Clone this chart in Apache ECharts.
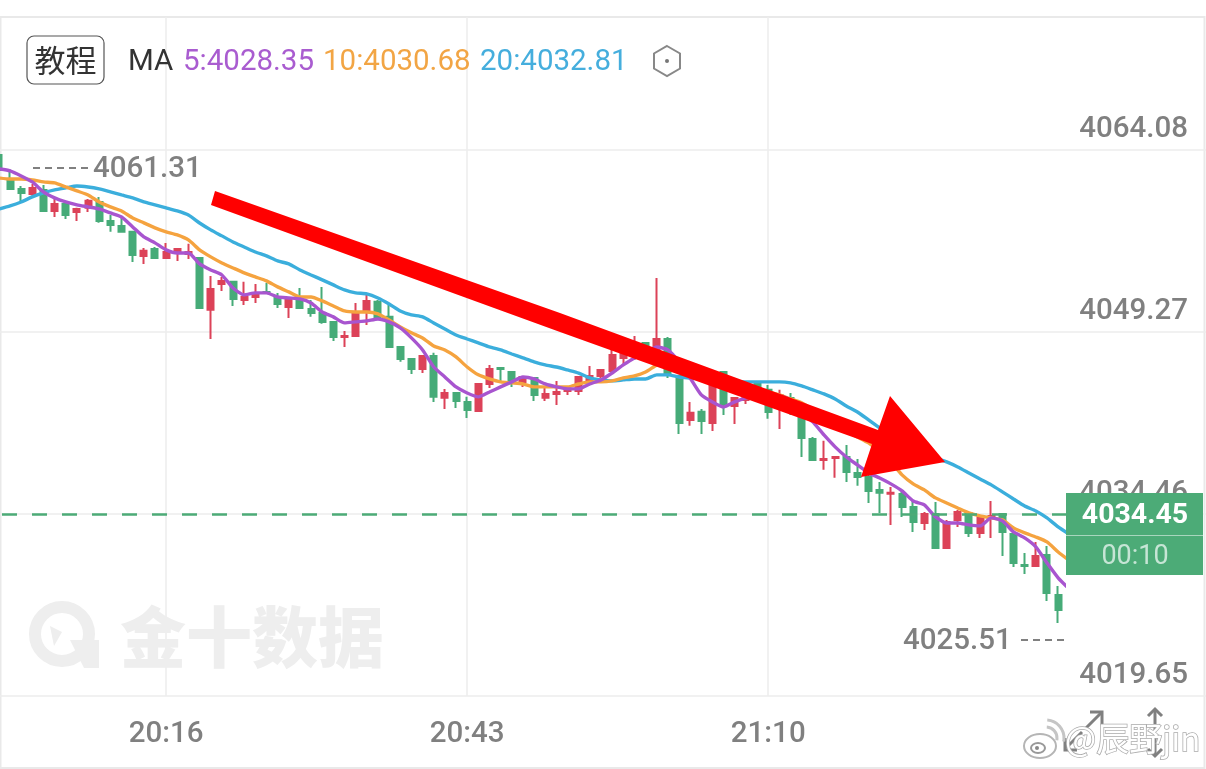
<!DOCTYPE html>
<html><head><meta charset="utf-8">
<style>html,body{margin:0;padding:0;background:#fff}#c{width:1206px;height:769px}</style>
<script src="https://cdn.jsdelivr.net/npm/echarts@6/dist/echarts.min.js"></script>
</head><body><div id="c"></div>
<script>
const times=["20:01","20:02","20:03","20:04","20:05","20:06","20:07","20:08","20:09","20:10","20:11","20:12","20:13","20:14","20:15","20:16","20:17","20:18","20:19","20:20","20:21","20:22","20:23","20:24","20:25","20:26","20:27","20:28","20:29","20:30","20:31","20:32","20:33","20:34","20:35","20:36","20:37","20:38","20:39","20:40","20:41","20:42","20:43","20:44","20:45","20:46","20:47","20:48","20:49","20:50","20:51","20:52","20:53","20:54","20:55","20:56","20:57","20:58","20:59","21:00","21:01","21:02","21:03","21:04","21:05","21:06","21:07","21:08","21:09","21:10","21:11","21:12","21:13","21:14","21:15","21:16","21:17","21:18","21:19","21:20","21:21","21:22","21:23","21:24","21:25","21:26","21:27","21:28","21:29","21:30","21:31","21:32","21:33","21:34","21:35","21:36","21:37"];
const shownTimes=["20:16","20:43","21:10"];
const yTicks=[4019.65,4034.46,4049.27,4064.08];
const lastPrice=4034.45;
const opens=[4063.67,4061.72,4060.91,4060.50,4060.83,4059.12,4059.69,4059.04,4059.37,4059.85,4058.31,4057.90,4057.42,4055.46,4056.03,4055.30,4055.70,4055.62,4055.30,4051.07,4053.18,4053.35,4051.88,4052.12,4052.53,4052.04,4051.31,4052.12,4051.15,4050.82,4050.09,4048.87,4048.95,4050.98,4051.72,4050.50,4048.05,4047.08,4046.26,4047.32,4043.91,4044.31,4043.58,4042.85,4045.04,4046.34,4046.02,4045.21,4045.53,4043.91,4044.23,4044.47,4044.47,4045.37,4045.69,4046.10,4047.16,4047.40,4048.38,4047.81,4048.70,4045.69,4042.11,4042.77,4041.87,4046.02,4043.25,4043.74,4045.04,4044.56,4043.33,4043.90,4042.93,4040.57,4038.86,4039.02,4039.10,4037.80,4037.47,4036.42,4036.10,4036.09,4035.03,4033.73,4034.46,4031.70,4033.98,4034.55,4032.92,4034.22,4034.46,4032.84,4030.31,4030.23,4031.13,4027.87];
const closes=[4062.46,4060.91,4060.58,4060.99,4059.12,4059.69,4058.79,4059.28,4059.94,4058.31,4057.98,4057.42,4055.54,4055.87,4055.30,4055.78,4056.03,4055.78,4051.23,4052.77,4053.42,4051.96,4052.12,4052.45,4052.45,4051.55,4051.88,4051.23,4050.82,4050.09,4048.87,4048.95,4050.90,4051.80,4050.41,4048.05,4047.08,4046.26,4047.32,4043.99,4044.31,4043.66,4042.93,4045.04,4046.26,4046.26,4045.21,4045.61,4044.15,4044.23,4044.39,4044.64,4045.61,4045.69,4046.18,4047.40,4047.81,4048.22,4047.16,4048.70,4045.78,4041.87,4042.69,4042.03,4044.96,4043.33,4043.90,4044.39,4044.15,4042.76,4044.15,4042.93,4040.65,4038.86,4038.94,4039.10,4037.88,4037.47,4036.34,4036.18,4036.18,4035.03,4033.81,4034.46,4031.70,4033.81,4034.63,4032.92,4034.22,4034.30,4033.00,4030.48,4030.23,4031.05,4028.04,4026.65];
const lows=[4062.46,4060.91,4059.85,4060.26,4059.12,4058.63,4058.47,4058.31,4059.04,4058.15,4057.42,4057.42,4054.97,4054.81,4055.30,4055.30,4055.05,4055.21,4051.23,4048.70,4052.61,4051.39,4051.47,4051.63,4052.45,4051.23,4050.41,4051.23,4050.50,4049.93,4048.54,4048.05,4048.95,4049.84,4050.41,4048.05,4046.84,4045.85,4045.93,4043.58,4043.01,4043.09,4042.28,4042.85,4044.72,4045.21,4044.80,4044.80,4043.66,4043.66,4043.33,4044.15,4044.15,4044.96,4045.53,4046.02,4046.67,4047.00,4046.84,4047.24,4045.53,4040.97,4041.63,4040.97,4041.22,4042.52,4041.79,4043.41,4043.74,4042.20,4041.38,4042.52,4039.10,4038.86,4038.05,4037.40,4037.07,4036.75,4035.36,4034.55,4033.57,4034.22,4032.99,4033.16,4031.70,4031.70,4033.41,4032.59,4032.51,4032.51,4031.05,4030.15,4029.58,4030.23,4027.38,4025.60];
const highs=[4063.67,4062.54,4061.15,4061.32,4061.24,4060.26,4059.85,4059.37,4060.10,4060.26,4058.79,4058.63,4057.42,4056.11,4056.19,4056.52,4056.11,4056.44,4055.30,4053.83,4053.75,4053.35,4053.35,4053.18,4053.26,4052.45,4052.04,4052.85,4051.88,4052.93,4050.09,4049.36,4051.63,4052.45,4051.88,4051.47,4048.05,4047.08,4047.40,4047.57,4044.64,4044.39,4043.99,4045.04,4046.59,4046.42,4046.02,4045.69,4045.61,4044.72,4045.29,4044.80,4045.61,4046.51,4046.26,4047.81,4047.97,4048.95,4048.38,4053.67,4048.87,4045.78,4043.58,4043.01,4045.37,4046.02,4043.90,4044.56,4045.21,4044.96,4044.56,4044.31,4043.33,4040.73,4040.41,4039.10,4040.08,4038.94,4038.05,4037.07,4036.66,4036.26,4035.60,4034.63,4035.44,4033.98,4034.79,4034.55,4034.38,4035.52,4034.55,4032.92,4031.29,4032.19,4031.86,4028.60];
const ma5=[4062.54,4062.38,4061.97,4061.48,4060.67,4060.18,4059.85,4059.61,4059.45,4059.28,4058.96,4058.63,4057.82,4057.00,4056.52,4055.95,4055.70,4055.70,4054.81,4054.32,4053.91,4052.85,4052.29,4052.45,4052.45,4052.12,4052.04,4051.96,4051.63,4050.90,4050.50,4050.01,4050.09,4050.17,4050.33,4050.09,4049.60,4048.79,4047.81,4046.42,4045.61,4044.80,4044.31,4043.99,4044.39,4044.80,4045.21,4045.61,4045.45,4045.04,4044.80,4044.64,4044.64,4045.04,4045.37,4045.93,4046.59,4047.16,4047.57,4048.05,4047.81,4046.84,4045.53,4044.15,4043.58,4043.17,4043.58,4043.90,4044.15,4044.15,4044.07,4043.74,4042.77,4041.95,4040.89,4039.92,4039.10,4038.45,4037.80,4037.39,4036.91,4036.34,4035.52,4035.20,4034.22,4033.73,4033.73,4033.57,4033.49,4034.14,4033.90,4033.00,4032.51,4031.78,4030.48,4029.26,4028.35];
const ma10=[4061.80,4061.72,4061.72,4061.64,4061.48,4061.40,4061.07,4060.75,4060.42,4059.85,4059.45,4059.12,4058.55,4058.15,4057.74,4057.42,4057.17,4056.76,4055.95,4055.38,4054.89,4054.48,4054.08,4053.75,4053.43,4052.94,4052.53,4052.12,4052.12,4051.80,4051.39,4050.98,4050.90,4050.90,4050.74,4050.25,4049.68,4049.20,4048.78,4048.13,4047.81,4047.24,4046.42,4045.78,4045.45,4045.21,4045.13,4045.04,4044.80,4044.80,4044.80,4044.80,4045.04,4045.21,4045.21,4045.29,4045.53,4045.70,4046.02,4046.59,4047.00,4047.00,4046.59,4046.18,4045.70,4045.37,4044.96,4044.72,4044.56,4044.39,4044.15,4043.82,4043.50,4042.93,4042.36,4041.79,4041.22,4040.73,4040.24,4039.51,4038.70,4037.64,4036.91,4036.42,4035.77,4035.36,4034.95,4034.55,4034.30,4034.14,4033.98,4033.33,4032.92,4032.59,4032.19,4031.37,4030.68];
const ma20=[4059.28,4059.53,4059.85,4060.26,4060.59,4060.83,4060.99,4061.15,4061.07,4060.91,4060.67,4060.42,4060.18,4059.85,4059.61,4059.37,4059.12,4058.79,4058.14,4057.58,4057.09,4056.60,4056.19,4055.78,4055.46,4055.05,4054.81,4054.32,4053.91,4053.51,4053.10,4052.69,4052.45,4052.37,4052.04,4051.55,4050.98,4050.66,4050.50,4050.01,4049.52,4049.03,4048.70,4048.38,4048.05,4047.81,4047.48,4047.16,4046.84,4046.59,4046.42,4046.18,4045.93,4045.53,4045.37,4045.29,4045.37,4045.45,4045.45,4045.78,4045.78,4045.61,4045.53,4045.45,4045.37,4045.29,4045.21,4045.21,4045.21,4045.21,4045.21,4045.13,4044.88,4044.56,4044.23,4043.82,4043.25,4042.76,4042.11,4041.46,4040.89,4040.32,4039.75,4039.43,4039.02,4038.70,4038.29,4037.80,4037.31,4036.83,4036.26,4035.68,4035.11,4034.71,4034.14,4033.41,4032.81];

const candles=opens.map((o,i)=>[o,closes[i],lows[i],highs[i]]);
const RED='#DC4258',GREEN='#46AB78',GRAY='#808080';
const NUM='Roboto,sans-serif';
const CJK='"Noto Sans CJK SC",sans-serif';
const yMin=4019.65,yMax=4074.9;
function txt(x,y,text,fill,size,opt){return Object.assign({type:'text',x,y,z:opt&&opt.z||50,style:Object.assign({text,fill,font:(opt&&opt.w||400)+' '+size+'px '+(opt&&opt.f||'Roboto,sans-serif'),textAlign:(opt&&opt.a)||'left',textVerticalAlign:'middle'},opt&&opt.s||{})})}
function ln(x1,y1,x2,y2,stroke,w,dash,z){return {type:'line',z:z||50,shape:{x1,y1,x2,y2},style:{stroke,lineWidth:w,lineDash:dash||null,lineCap:'butt'}}}
function poly(points,fill,z){return {type:'polygon',z:z===undefined?60:z,shape:{points},style:{fill}}}
function pl(points,stroke,w,z){return {type:'polyline',z:z||50,shape:{points},style:{stroke,lineWidth:w,fill:null}}}

const graphics=[
 {type:'rect',z:0,shape:{x:0.5,y:17,width:1204,height:751},style:{fill:'none',stroke:'#e9e9e9',lineWidth:2}},
 {type:'circle',z:0,shape:{cx:62,cy:634,r:27},style:{fill:'none',stroke:'#eeeeee',lineWidth:12}},
 poly([[70,640],[99,640],[99,668],[84,668]],'#eeeeee',0),
 poly([[50,626],[62,632],[54,646]],'#eeeeee',0),
 txt(120,637,'金十数据','#eeeeee',66,{w:900,f:CJK,z:0}),
 {type:'rect',z:50,shape:{x:27,y:36,width:77,height:48,r:7},style:{fill:'#fff',stroke:'#555',lineWidth:1.2}},
 txt(65.5,60,'教程','#333',31,{a:'center',f:CJK}),
 txt(128,62.5,'MA','#333',29.5),
 txt(183,62.5,'5:4028.35','#A95CD0',29.5),
 txt(323,62.5,'10:4030.68','#F2A544',29.5),
 txt(480,62.5,'20:4032.81','#45AEDD',29.5),
 {type:'polygon',z:50,shape:{points:[[667,46],[680,53.5],[680,68.5],[667,76],[654,68.5],[654,53.5]]},style:{fill:'none',stroke:'#888',lineWidth:2}},
 {type:'circle',z:50,shape:{cx:667,cy:61,r:2},style:{fill:'#777'}},
 ln(33,168,88,168,GRAY,2,[7,5]),
 txt(93,170,'4061.31',GRAY,29.5,{f:NUM,w:500}),
 txt(903,642,'4025.51',GRAY,29.5,{f:NUM,w:500}),
 ln(1021,640,1065,640,GRAY,2,[7,5]),
 poly([[215,191],[560,313],[878,430],[890,396],[945,462],[861,477],[872,444],[560,332],[211,205]],'#FF0000',60),
 {type:'rect',z:69,shape:{x:1066,y:575,width:16,height:30},style:{fill:'#fff'}},
 {type:'rect',z:70,shape:{x:1066,y:493,width:137,height:82},style:{fill:'#4CAB77'}},
 ln(1066,535.5,1203,535.5,'#a8d6bd',1,null,71),
 txt(1135,516,'4034.45','#fff',28.5,{a:'center',f:NUM,w:700,z:72}),
 txt(1135,557,'00:10','#c6e5d5',27,{a:'center',f:NUM,z:72}),
 ln(1066,748,1082,732,'#808080',3),
 ln(1086,728,1101,713,'#808080',3),
 pl([[1090,712],[1102,712],[1102,724]],'#808080',3),
 pl([[1065,738],[1065,750],[1077,750]],'#808080',3),
 ln(1155,709,1155,730,'#808080',3),
 ln(1155,738,1155,755,'#808080',3),
 pl([[1148,716],[1155,709],[1162,716]],'#808080',3),
 pl([[1148,749],[1155,756],[1162,749]],'#808080',3),
 {type:'ellipse',z:80,shape:{cx:1040,cy:746,rx:16,ry:12},style:{fill:'#fff',stroke:'#b5b5b5',lineWidth:2}},
 {type:'ellipse',z:81,shape:{cx:1038,cy:748,rx:7,ry:5},style:{fill:'#fff',stroke:'#999',lineWidth:2}},
 {type:'circle',z:82,shape:{cx:1037,cy:748,r:2},style:{fill:'#888'}},
 {type:'arc',z:80,shape:{cx:1046,cy:738,r:11,startAngle:-1.5,endAngle:0.2},style:{stroke:'#c5c5c5',lineWidth:3,fill:null}},
 {type:'arc',z:80,shape:{cx:1046,cy:738,r:18,startAngle:-1.5,endAngle:0.2},style:{stroke:'#c5c5c5',lineWidth:3,fill:null}},
 txt(1065,738,'@辰野jin','#fff',33,{f:CJK,z:80,s:{stroke:'#aaaaaa',lineWidth:1.5}})
];

const option={
 animation:false,
 backgroundColor:'#ffffff',
 grid:[
  {left:0,right:0,top:17,bottom:73,outerBoundsMode:'none'},
  {left:-6.7,width:1081.55,top:17,bottom:73,outerBoundsMode:'none'}
 ],
 xAxis:[
  {type:'category',gridIndex:0,show:false,data:times},
  {type:'category',gridIndex:1,data:times,boundaryGap:true,
   axisLine:{show:false},axisTick:{show:false,alignWithLabel:true,interval:(i,v)=>shownTimes.includes(v)},
   axisLabel:{interval:(i,v)=>shownTimes.includes(v),color:GRAY,fontSize:29.5,fontWeight:500,fontFamily:NUM,margin:24,hideOverlap:false},
   splitLine:{show:true,alignWithLabel:true,interval:(i,v)=>shownTimes.includes(v),lineStyle:{color:'#ececec',width:1.5}}}
 ],
 yAxis:[
  {type:'value',gridIndex:0,position:'right',min:yMin,max:yMax,
   axisLine:{show:false},
   axisTick:{show:false,customValues:yTicks},
   axisLabel:{customValues:yTicks,inside:true,margin:18,color:GRAY,fontSize:29.5,fontWeight:500,fontFamily:NUM,align:'right',verticalAlign:'bottom',lineHeight:40,formatter:v=>v.toFixed(2)},
   splitLine:{show:true,lineStyle:{color:'#ececec',width:1.5}}},
  {type:'value',gridIndex:1,min:yMin,max:yMax,show:false,splitLine:{show:false}}
 ],
 graphic:graphics,
 series:[
  {name:'K',type:'candlestick',xAxisIndex:1,yAxisIndex:1,barWidth:6.5,clip:true,
   data:candles,
   itemStyle:{color:RED,color0:GREEN,borderColor:RED,borderColor0:GREEN,borderWidth:2},
   markLine:{silent:true,symbol:'none',label:{show:false},animation:false,
     lineStyle:{color:'#4CAB77',type:[15,15],dashOffset:21.3,width:2.6,opacity:1},data:[{yAxis:lastPrice}]}},
  {name:'MA20',type:'line',xAxisIndex:1,yAxisIndex:1,data:ma20,showSymbol:false,smooth:0.2,lineStyle:{color:'#3BAEDC',width:3.4}},
  {name:'MA10',type:'line',xAxisIndex:1,yAxisIndex:1,data:ma10,showSymbol:false,smooth:0.2,lineStyle:{color:'#F5A33F',width:3.4}},
  {name:'MA5',type:'line',xAxisIndex:1,yAxisIndex:1,data:ma5,showSymbol:false,smooth:0.2,lineStyle:{color:'#A855CF',width:3.4}}
 ]
};
const chart=echarts.init(document.getElementById('c'),null,{renderer:'canvas'});
chart.setOption(option);
</script></body></html>
